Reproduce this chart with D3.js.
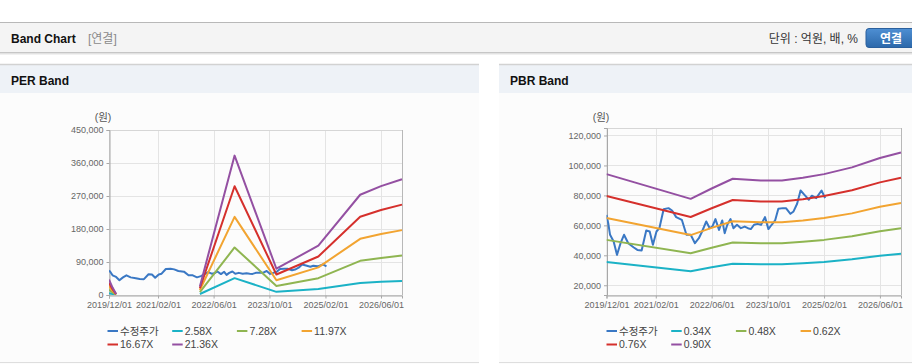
<!DOCTYPE html>
<html><head><meta charset="utf-8">
<script src="https://cdn.jsdelivr.net/npm/d3@7"></script>
<style>
html,body{margin:0;padding:0;background:#fff;}
svg{display:block;font-family:"Liberation Sans",Arial,"Noto Sans CJK KR",sans-serif;}
</style></head><body>
<svg id="c" width="912" height="364"></svg>
<script>
// ---------- DATA ----------
const xTickLabels = ["2019/12/01","2021/02/01","2022/06/01","2023/10/01","2025/02/01","2026/06/01"];
const seriesNames = ["수정주가"];
const perBandNames = ["2.58X","7.28X","11.97X","16.67X","21.36X"];
const pbrBandNames = ["0.34X","0.48X","0.62X","0.76X","0.90X"];
const perYTicks = [0,90000,180000,270000,360000,450000];
const pbrYTicks = [20000,40000,60000,80000,100000,120000];

const stockDates = ["2019-12-01","2019-12-16","2020-01-01","2020-02-01","2020-03-01","2020-04-01","2020-05-01","2020-06-07","2020-07-22","2020-08-25","2020-10-01","2020-11-10","2020-12-10","2021-01-07","2021-02-07","2021-03-04","2021-04-10","2021-05-22","2021-06-22","2021-07-28","2021-09-15","2021-10-25","2021-12-01","2022-01-07","2022-02-10","2022-03-10","2022-04-15","2022-05-15","2022-06-07","2022-07-04","2022-08-04","2022-09-01","2022-09-22","2022-10-15","2022-11-12","2022-12-07","2023-01-07","2023-02-10","2023-03-15","2023-04-12","2023-05-07","2023-06-04","2023-07-04","2023-08-04","2023-09-07","2023-10-07","2023-11-04","2023-12-04","2024-01-01","2024-02-10","2024-03-07","2024-04-15","2024-05-12","2024-06-12","2024-07-12","2024-08-15","2024-09-22","2024-10-18","2024-11-25","2025-01-10","2025-02-10"];
const stockPrice = [67000,61500,53700,49200,40300,48100,53700,48100,45400,43600,43200,56600,55900,47000,55900,58100,70800,71500,69900,65500,63700,53700,53700,48100,51400,55900,62600,58100,59200,64200,57000,63300,54800,60400,64200,58100,60400,58100,59200,58100,57500,60400,61000,60400,65500,57500,60400,63300,71100,71500,71500,67700,69300,74400,83300,80400,77100,79800,78200,83300,78200];

// PER band (null = no value, line break)
const perBandDates = ["2019-12-01","2020-01-01","2020-02-01","2020-03-01","2022-02-01","2022-12-01","2023-12-01","2024-12-01","2025-12-01","2026-06-01","2026-12-01"];
const per258  = [5100, 2500, 300, null, 2800, 45900, 8600, 16300, 33000, 35900, 38100];
const per728  = [14300, 6900, 900, null, 8000, 129600, 24400, 45900, 93200, 101200, 107600];
const per1197 = [23600, 11400, 1600, null, 13200, 213100, 40100, 75400, 153200, 166400, 176900];
const per1667 = [32800, 15800, 2200, null, 18300, 296700, 55800, 105000, 213400, 231700, 246400];
const per2136 = [42100, 20300, 2800, null, 23500, 380200, 71600, 134600, 273400, 296900, 315700];

// PBR band
const pbrBandDates = ["2019-12-01","2021-12-01","2022-06-01","2022-12-01","2023-08-01","2024-02-01","2024-08-01","2025-02-01","2025-10-01","2026-06-01","2026-12-01"];
const pbr034 = [35600, 29300, 32000, 34400, 34000, 34000, 34700, 35600, 37300, 39700, 41100];
const pbr048 = [50300, 41400, 45100, 48600, 48000, 48000, 49000, 50300, 52700, 56000, 58000];
const pbr062 = [64900, 53500, 58300, 62700, 62000, 62000, 63200, 64900, 68000, 72400, 74900];
const pbr076 = [79600, 65600, 71400, 76900, 76000, 76000, 77500, 79600, 83400, 88700, 91800];
const pbr090 = [94200, 77700, 84600, 91100, 90000, 90000, 91800, 94200, 98700, 105000, 108700];

const colors = ["#3a78c4","#1bb2c6","#8fb551","#f2a431","#d5302c","#9450a2"];

// ---------- DRAW ----------
const svg = d3.select("#c");
const parse = d3.timeParse("%Y-%m-%d");
const parseTick = d3.timeParse("%Y/%m/%d");

// top band header
svg.append("rect").attr("x",0).attr("y",23).attr("width",912).attr("height",30).attr("fill","#f4f4f4");
svg.append("line").attr("x1",0).attr("x2",912).attr("y1",22.5).attr("y2",22.5).attr("stroke","#b8b8b8");
svg.append("line").attr("x1",0).attr("x2",912).attr("y1",52.5).attr("y2",52.5).attr("stroke","#c6c6c6");
svg.append("line").attr("x1",0).attr("x2",912).attr("y1",53.5).attr("y2",53.5).attr("stroke","#e2e2e2");
svg.append("line").attr("x1",0).attr("x2",912).attr("y1",54.5).attr("y2",54.5).attr("stroke","#f1f1f1");
svg.append("text").attr("x",11).attr("y",43).attr("font-size",12).attr("font-weight","bold").attr("fill","#111").text("Band Chart");
svg.append("text").attr("x",88).attr("y",43).attr("font-size",12).attr("fill","#8a8a8a").text("[연결]");
svg.append("text").attr("x",858).attr("y",43).attr("font-size",12).attr("fill","#333").attr("text-anchor","end").text("단위 : 억원, 배, %");
const grad = svg.append("defs").append("linearGradient").attr("id","btn").attr("x1",0).attr("y1",0).attr("x2",0).attr("y2",1);
grad.append("stop").attr("offset","0%").attr("stop-color","#4e8fd3");
grad.append("stop").attr("offset","100%").attr("stop-color","#2c68aa");
svg.append("rect").attr("x",866).attr("y",28.5).attr("width",52).attr("height",19).attr("rx",3).attr("fill","url(#btn)").attr("stroke","#2a5f9c");
svg.append("text").attr("x",891).attr("y",42.5).attr("font-size",12).attr("font-weight","bold").attr("fill","#fff").attr("text-anchor","middle").text("연결");

function panel(x, w, title){
  svg.append("rect").attr("x",x).attr("y",93).attr("width",w).attr("height",271).attr("fill","#fcfcfc");
  svg.append("rect").attr("x",x).attr("y",64).attr("width",w).attr("height",29).attr("fill","#eef2f7");
  svg.append("line").attr("x1",x).attr("x2",x+w).attr("y1",64.5).attr("y2",64.5).attr("stroke","#d2d2d2").attr("stroke-width",1.5);
  svg.append("line").attr("x1",x).attr("x2",x+w).attr("y1",362.5).attr("y2",362.5).attr("stroke","#dedede");
  svg.append("text").attr("x",x+11).attr("y",85).attr("font-size",12).attr("font-weight","bold").attr("fill","#111").text(title);
}
panel(0,479,"PER Band");
panel(499,413,"PBR Band");

function chart(cfg){
  const x = d3.scaleTime().domain([parse("2019-12-01"), parse("2026-12-01")]).range([cfg.left, cfg.right]);
  const y = d3.scaleLinear().domain(cfg.yDomain).range([cfg.bottom, cfg.top]);
  const g = svg.append("g");
  const xt = xTickLabels.map(parseTick);
  // grid
  g.append("g").selectAll("line").data(cfg.yTicks).join("line")
    .attr("x1",cfg.left).attr("x2",cfg.right).attr("y1",d=>Math.round(y(d))+0.5).attr("y2",d=>Math.round(y(d))+0.5)
    .attr("stroke","#e4e4e4");
  g.append("g").selectAll("line").data(xt).join("line")
    .attr("x1",d=>Math.round(x(d))+0.5).attr("x2",d=>Math.round(x(d))+0.5).attr("y1",cfg.top).attr("y2",cfg.bottom)
    .attr("stroke","#e4e4e4");
  // border
  g.append("rect").attr("x",cfg.left+0.5).attr("y",cfg.top+0.5).attr("width",cfg.right-cfg.left).attr("height",cfg.bottom-cfg.top)
    .attr("fill","none").attr("stroke","#d6d6d6");
  g.append("line").attr("x1",cfg.right+0.5).attr("x2",cfg.right+0.5).attr("y1",cfg.top).attr("y2",cfg.bottom).attr("stroke","#b8b8b8");
  // axes
  const ya = g.append("g").attr("transform",`translate(${cfg.left+0.5},0)`)
    .call(d3.axisLeft(y).tickValues(cfg.yTicks).tickSize(3).tickPadding(3).tickFormat(d3.format(",")));
  const xa = g.append("g").attr("transform",`translate(0,${cfg.bottom+0.5})`)
    .call(d3.axisBottom(x).tickValues(xt).tickSize(3).tickPadding(3).tickFormat(d3.timeFormat("%Y/%m/%d")));
  [ya,xa].forEach(a=>{
    a.select(".domain").attr("stroke","#a8a8a8");
    a.selectAll(".tick line").attr("stroke","#a8a8a8");
    a.selectAll("text").attr("font-size",9).attr("fill","#666").attr("font-family",null);
  });
  g.append("text").attr("x",cfg.unitX).attr("y",121).attr("font-size",10.5).attr("fill","#555").attr("text-anchor","middle").text("(원)");
  const clip = "clip"+cfg.id;
  svg.append("clipPath").attr("id",clip).append("rect").attr("x",cfg.left).attr("y",cfg.top-2).attr("width",cfg.right-cfg.left+1).attr("height",cfg.bottom-cfg.top+2);
  const lines = g.append("g").attr("clip-path",`url(#${clip})`);
  const line = d3.line().defined(d=>d[1]!=null).x(d=>x(d[0])).y(d=>y(d[1]));
  const sd = stockDates.map(parse);
  lines.append("path").attr("d", line(sd.map((d,i)=>[d,stockPrice[i]])))
    .attr("fill","none").attr("stroke",colors[0]).attr("stroke-width",2).attr("stroke-linejoin","round");
  const bd = cfg.bandDates.map(parse);
  cfg.bands.forEach((vals,k)=>{
    lines.append("path").attr("d", line(bd.map((d,i)=>[d,vals[i]])))
      .attr("fill","none").attr("stroke",colors[k+1]).attr("stroke-width",2).attr("stroke-linejoin","round");
  });
  // legend
  const names = seriesNames.concat(cfg.bandNames);
  const lg = g.append("g");
  names.forEach((n,i)=>{
    const col = i%4, row = Math.floor(i/4);
    const lx = cfg.legendX + col*cfg.legendStep, ly = 331 + row*13.5;
    lg.append("line").attr("x1",lx).attr("x2",lx+10.5).attr("y1",ly).attr("y2",ly).attr("stroke",colors[i]).attr("stroke-width",2);
    lg.append("text").attr("x",lx+12.5).attr("y",ly+3.8).attr("font-size",10.5).attr("fill","#444").text(n);
  });
}

chart({id:"per", left:109, right:402, top:130, bottom:295, yDomain:[0,450000], yTicks:perYTicks,
  bandDates:perBandDates, bands:[per258,per728,per1197,per1667,per2136], bandNames:perBandNames,
  unitX:103, legendX:107.5, legendStep:64.7});
chart({id:"pbr", left:606.5, right:901, top:128, bottom:295, yDomain:[13500,125000], yTicks:pbrYTicks,
  bandDates:pbrBandDates, bands:[pbr034,pbr048,pbr062,pbr076,pbr090], bandNames:pbrBandNames,
  unitX:601, legendX:606.5, legendStep:64.7});
</script>
</body></html>
